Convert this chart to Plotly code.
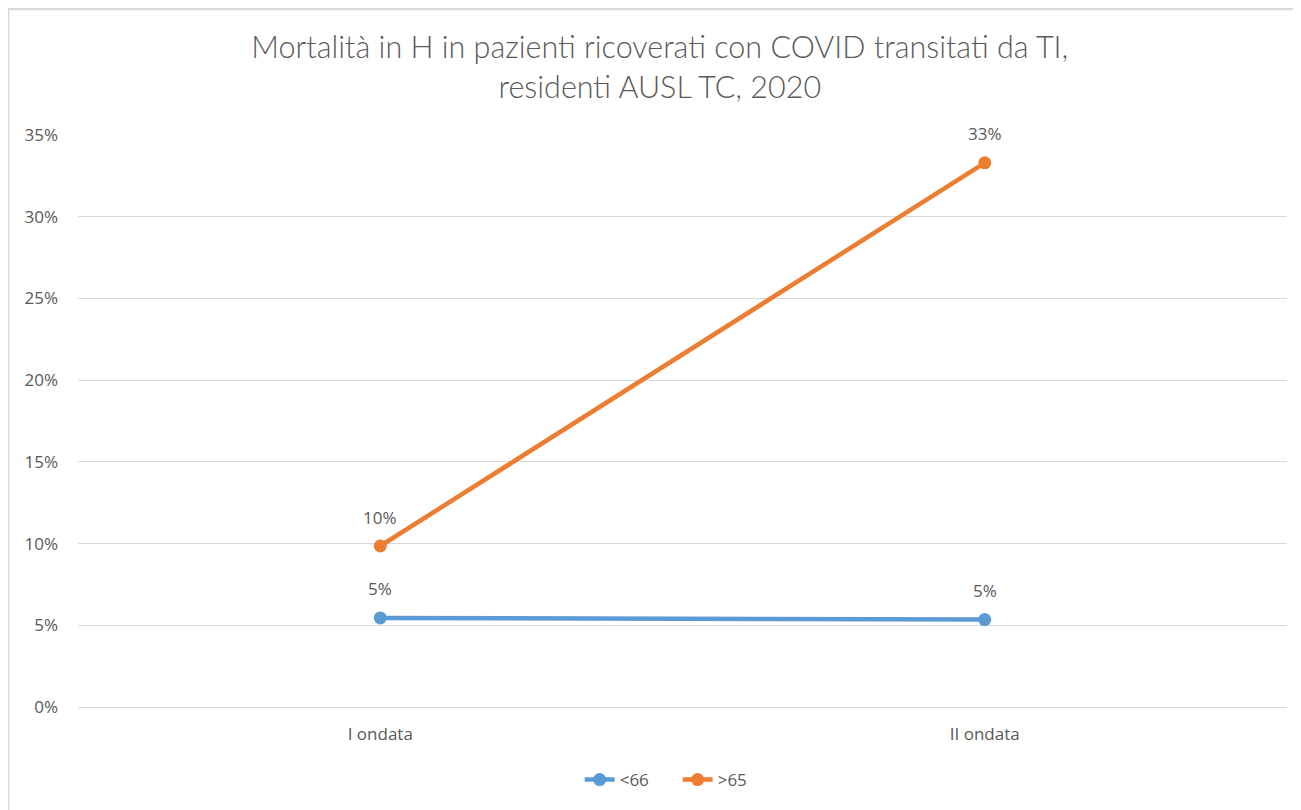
import plotly.graph_objects as go

categories = ["I ondata", "II ondata"]
series_names = ["<66", ">65"]
under66 = [0.0545, 0.0535]
over65 = [0.0985, 0.333]
label_under66 = ["5%", "5%"]
label_over65 = ["10%", "33%"]
y_ticks = [0, 0.05, 0.10, 0.15, 0.20, 0.25, 0.30, 0.35]

colors = ["#5B9BD5", "#ED7D31"]
title_font = "Lato, Open Sans, sans-serif"
body_font = "Open Sans, sans-serif"
text_color = "#595959"

fig = go.Figure()
for name, vals, col in [(series_names[0], under66, colors[0]), (series_names[1], over65, colors[1])]:
    fig.add_trace(go.Scatter(
        x=categories, y=vals, name=name, mode="lines+markers",
        line=dict(color=col, width=4.5),
        marker=dict(color=col, size=13),
    ))

annotations = []
for vals, labels in [(under66, label_under66), (over65, label_over65)]:
    for c, v, t in zip(categories, vals, labels):
        annotations.append(dict(
            x=c, y=v, xref="x", yref="y", text=t, showarrow=False,
            yshift=29, font=dict(size=17, color=text_color, family=body_font),
        ))

fig.update_layout(
    width=1301, height=810,
    margin=dict(l=70, r=22, t=127, b=111),
    paper_bgcolor="white", plot_bgcolor="white",
    title=dict(
        text="Mortalità in H in pazienti ricoverati con COVID transitati da TI,<br>residenti AUSL TC, 2020",
        x=0.501, xanchor="center", xref="container", y=0.938, yanchor="middle",
        font=dict(size=30.5, color="#595959", family=title_font, weight=300),
    ),
    xaxis=dict(
        type="category", range=[-0.5, 1.5], showgrid=False,
        showline=False, ticks="", zeroline=False,
        tickfont=dict(size=17, color=text_color, family=body_font),
        ticklabelstandoff=15,
    ),
    yaxis=dict(
        range=[0, 0.35], tickvals=y_ticks, tickformat=".0%",
        showgrid=True, gridcolor="#D9D9D9", gridwidth=1.3,
        zeroline=True, zerolinecolor="#D9D9D9", zerolinewidth=1.3,
        showline=False, ticks="",
        tickfont=dict(size=17, color=text_color, family=body_font),
        ticklabelstandoff=19,
    ),
    legend=dict(
        orientation="h", x=0.496, xanchor="center", y=-0.1276, yanchor="middle",
        font=dict(size=17, color=text_color, family=body_font),
        tracegroupgap=0, entrywidth=53, itemwidth=30,
    ),
    annotations=annotations,
    shapes=[
        dict(type="line", xref="paper", yref="paper", x0=-0.0579, x1=1.02,
             y0=1.2203, y1=1.2203, line=dict(color="#D9D9D9", width=2.5)),
        dict(type="line", xref="paper", yref="paper", x0=-0.0579, x1=-0.0579,
             y0=1.2203, y1=-0.2, line=dict(color="#D9D9D9", width=2.5)),
    ],
)

fig.write_html("out.html")
